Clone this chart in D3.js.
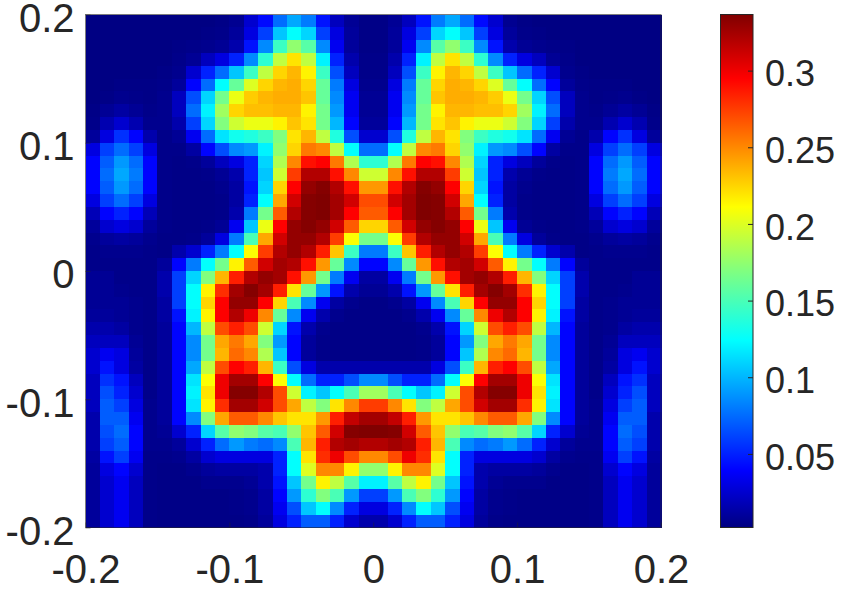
<!DOCTYPE html>
<html><head><meta charset="utf-8">
<script src="https://cdn.jsdelivr.net/npm/d3@7"></script>
<style>html,body{margin:0;background:#fff;overflow:hidden}svg{display:block}text{font-family:"Liberation Sans",Arial,sans-serif;fill:#262626}</style>
</head><body><div id="c"></div>
<script>
// Field values x1000, rows top (y=+0.2) to bottom; left half columns (x<0). Field is left-right symmetric.
const leftHalfRows = [
[3,3,3,3,3,3,3,3,3,4,7,25,42,75,95,80,45,20,8,4],
[3,3,3,3,3,3,3,3,4,5,10,30,60,105,125,110,60,30,10,4],
[3,3,3,3,3,3,4,5,6,8,15,45,85,145,175,155,85,35,10,4],
[3,3,3,3,3,3,5,8,20,30,50,85,140,190,220,190,120,50,15,5],
[3,3,3,3,3,4,6,25,50,75,105,145,190,225,235,215,145,65,20,5],
[3,3,4,4,4,5,10,40,75,125,160,200,225,235,238,225,160,80,30,6],
[3,4,6,5,4,6,20,65,110,165,205,228,235,238,238,230,160,85,35,8],
[4,8,12,8,5,6,20,75,120,180,225,232,232,235,235,215,165,90,35,8],
[5,16,25,16,6,6,15,60,110,170,195,205,205,215,230,220,165,100,40,10],
[10,30,55,40,15,5,8,35,75,115,130,135,145,170,220,235,190,135,65,25],
[30,60,75,60,30,5,5,12,40,65,85,90,120,175,225,255,250,190,125,75],
[40,70,90,75,40,5,4,5,10,20,30,50,110,185,250,290,295,255,185,140],
[40,75,95,80,40,5,4,4,5,8,15,50,105,195,275,320,320,290,250,195],
[40,70,90,75,40,5,4,4,4,6,12,45,110,225,295,330,335,320,290,245],
[30,60,75,60,30,5,4,4,4,5,12,50,125,240,310,335,337,325,310,270],
[18,40,50,40,18,5,4,4,4,5,15,80,165,265,320,335,337,325,295,265],
[10,25,30,25,10,5,4,4,5,8,35,105,205,295,330,335,330,310,265,225],
[6,10,12,10,6,4,4,5,10,30,80,150,240,310,330,330,320,275,210,165],
[5,6,6,6,5,4,15,25,50,80,125,210,275,320,330,320,285,230,145,80],
[5,5,5,5,5,10,40,80,125,165,215,265,310,325,320,290,245,160,85,40],
[8,8,5,5,5,15,60,110,170,235,285,320,330,325,290,245,165,80,35,12],
[8,8,6,5,5,15,60,125,215,280,325,335,325,285,220,160,90,45,15,8],
[8,8,8,6,5,12,60,125,225,295,330,330,295,225,150,85,35,12,6,4],
[10,10,8,6,5,12,45,120,215,295,320,300,250,160,85,35,15,6,4,4],
[15,15,12,6,5,10,40,100,190,270,285,270,195,110,45,15,6,4,4,4],
[20,20,20,8,5,10,40,85,165,240,255,240,170,90,40,10,5,4,4,4],
[25,35,30,10,5,10,40,85,165,235,260,250,185,105,40,10,5,4,4,4],
[25,45,30,12,5,10,40,95,190,270,295,285,235,145,65,30,15,15,15,15],
[20,55,45,20,5,10,40,115,210,300,325,325,295,210,125,75,50,50,65,85],
[20,65,50,25,5,10,40,120,220,300,335,335,320,270,195,120,105,125,150,180],
[20,70,60,30,6,10,40,115,215,280,325,325,310,270,240,190,170,220,250,275],
[15,70,70,35,6,10,40,85,170,240,265,265,250,230,220,220,245,285,315,325],
[15,65,75,40,6,8,25,50,110,155,175,170,155,150,175,230,265,310,335,337],
[15,60,70,40,6,6,10,25,50,75,90,80,75,85,150,235,285,320,325,320],
[12,45,60,35,5,5,6,12,25,30,30,30,30,50,125,220,280,300,270,250],
[10,30,40,25,5,4,4,6,10,12,12,12,15,50,125,200,250,250,215,175],
[10,25,35,20,5,4,4,4,6,6,6,8,15,45,105,165,215,190,155,120],
[10,25,35,20,5,4,4,4,4,4,5,6,12,40,90,140,170,150,90,60],
[10,25,35,20,5,4,4,4,4,4,5,6,12,35,65,105,125,85,50,30],
[10,25,35,20,5,4,4,4,4,4,4,5,10,30,50,70,70,50,25,15]
];
const axisTicks = [-0.2,-0.1,0,0.1,0.2];
const axisTickLabels = ["-0.2","-0.1","0","0.1","0.2"];
const colorbarTicks = [0.05,0.1,0.15,0.2,0.25,0.3];
const colorbarTickLabels = ["0.05","0.1","0.15","0.2","0.25","0.3"];
const valueRange = [0.002,0.3366];

const W=845,H=589,M={l:85.5,r:661,t:14.5,b:527.5},CB={l:720.5,r:753};
const svg=d3.select("#c").append("svg").attr("width",W).attr("height",H);

const jetStops=[[0,"#000080"],[0.111,"#0000ff"],[0.365,"#00ffff"],[0.5,"#80ff80"],[0.625,"#ffff00"],[0.875,"#ff0000"],[1,"#800000"]];
const color=d3.scaleLinear().domain(jetStops.map(d=>valueRange[0]+d[0]*(valueRange[1]-valueRange[0]))).range(jetStops.map(d=>d[1])).clamp(true);

const rows=leftHalfRows.map(r=>r.concat(r.slice().reverse()));
const nCols=rows[0].length,nRows=rows.length;
const x=d3.scaleLinear().domain([-0.2,0.2]).range([M.l,M.r]);
const y=d3.scaleLinear().domain([-0.2,0.2]).range([M.b,M.t]);
const cx=d3.scaleBand().domain(d3.range(nCols)).range([M.l,M.r]);
const cy=d3.scaleBand().domain(d3.range(nRows)).range([M.t,M.b]);

svg.append("g").attr("shape-rendering","crispEdges").selectAll("g").data(rows).join("g").each(function(r,i){
  d3.select(this).selectAll("rect").data(r).join("rect")
    .attr("x",(d,j)=>cx(j)).attr("y",cy(i))
    .attr("width",cx.bandwidth()+0.5).attr("height",cy.bandwidth()+0.5)
    .attr("fill",d=>color(d/1000));
});
// frame
svg.append("rect").attr("x",M.l).attr("y",M.t).attr("width",M.r-M.l).attr("height",M.b-M.t)
  .attr("fill","none").attr("stroke","#262626").attr("stroke-width",1).attr("stroke-opacity",.6);

// axes
const fmt=v=>axisTickLabels[axisTicks.indexOf(v)];
const gx=svg.append("g").attr("transform",`translate(0,${M.b})`)
  .call(d3.axisBottom(x).tickValues(axisTicks).tickFormat(fmt).tickSize(-5).tickPadding(55));
const gy=svg.append("g").attr("transform",`translate(${M.l},0)`)
  .call(d3.axisLeft(y).tickValues(axisTicks).tickFormat(fmt).tickSize(-5).tickPadding(11));
gx.selectAll("text").attr("dy",0);
gy.selectAll("text").attr("dy","0.42em");
[gx,gy].forEach(g=>{g.select(".domain").remove();g.selectAll("line").attr("stroke","#262626").attr("stroke-opacity",.5);});

// colorbar
const cbY=d3.scaleLinear().domain(valueRange).range([M.b,M.t]);
const defs=svg.append("defs");
const grad=defs.append("linearGradient").attr("id","jet").attr("x1",0).attr("x2",0).attr("y1",1).attr("y2",0);
grad.selectAll("stop").data(jetStops).join("stop").attr("offset",d=>d[0]).attr("stop-color",d=>d[1]);
svg.append("rect").attr("x",CB.l).attr("y",M.t).attr("width",CB.r-CB.l).attr("height",M.b-M.t)
  .attr("fill","url(#jet)").attr("stroke","#262626").attr("stroke-width",1);
const gc=svg.append("g").attr("transform",`translate(${CB.r},0)`)
  .call(d3.axisRight(cbY).tickValues(colorbarTicks).tickFormat(v=>colorbarTickLabels[colorbarTicks.indexOf(v)]).tickSize(-5).tickPadding(12));
gc.select(".domain").remove();
gc.selectAll("line").attr("stroke","#262626");
gc.selectAll("text").attr("dy","0.42em");
svg.selectAll("text").attr("font-family",null).attr("fill",null);
gx.selectAll("text").attr("font-size",40);
gy.selectAll("text").attr("font-size",40);
gc.selectAll("text").attr("font-size",36);
</script></body></html>
